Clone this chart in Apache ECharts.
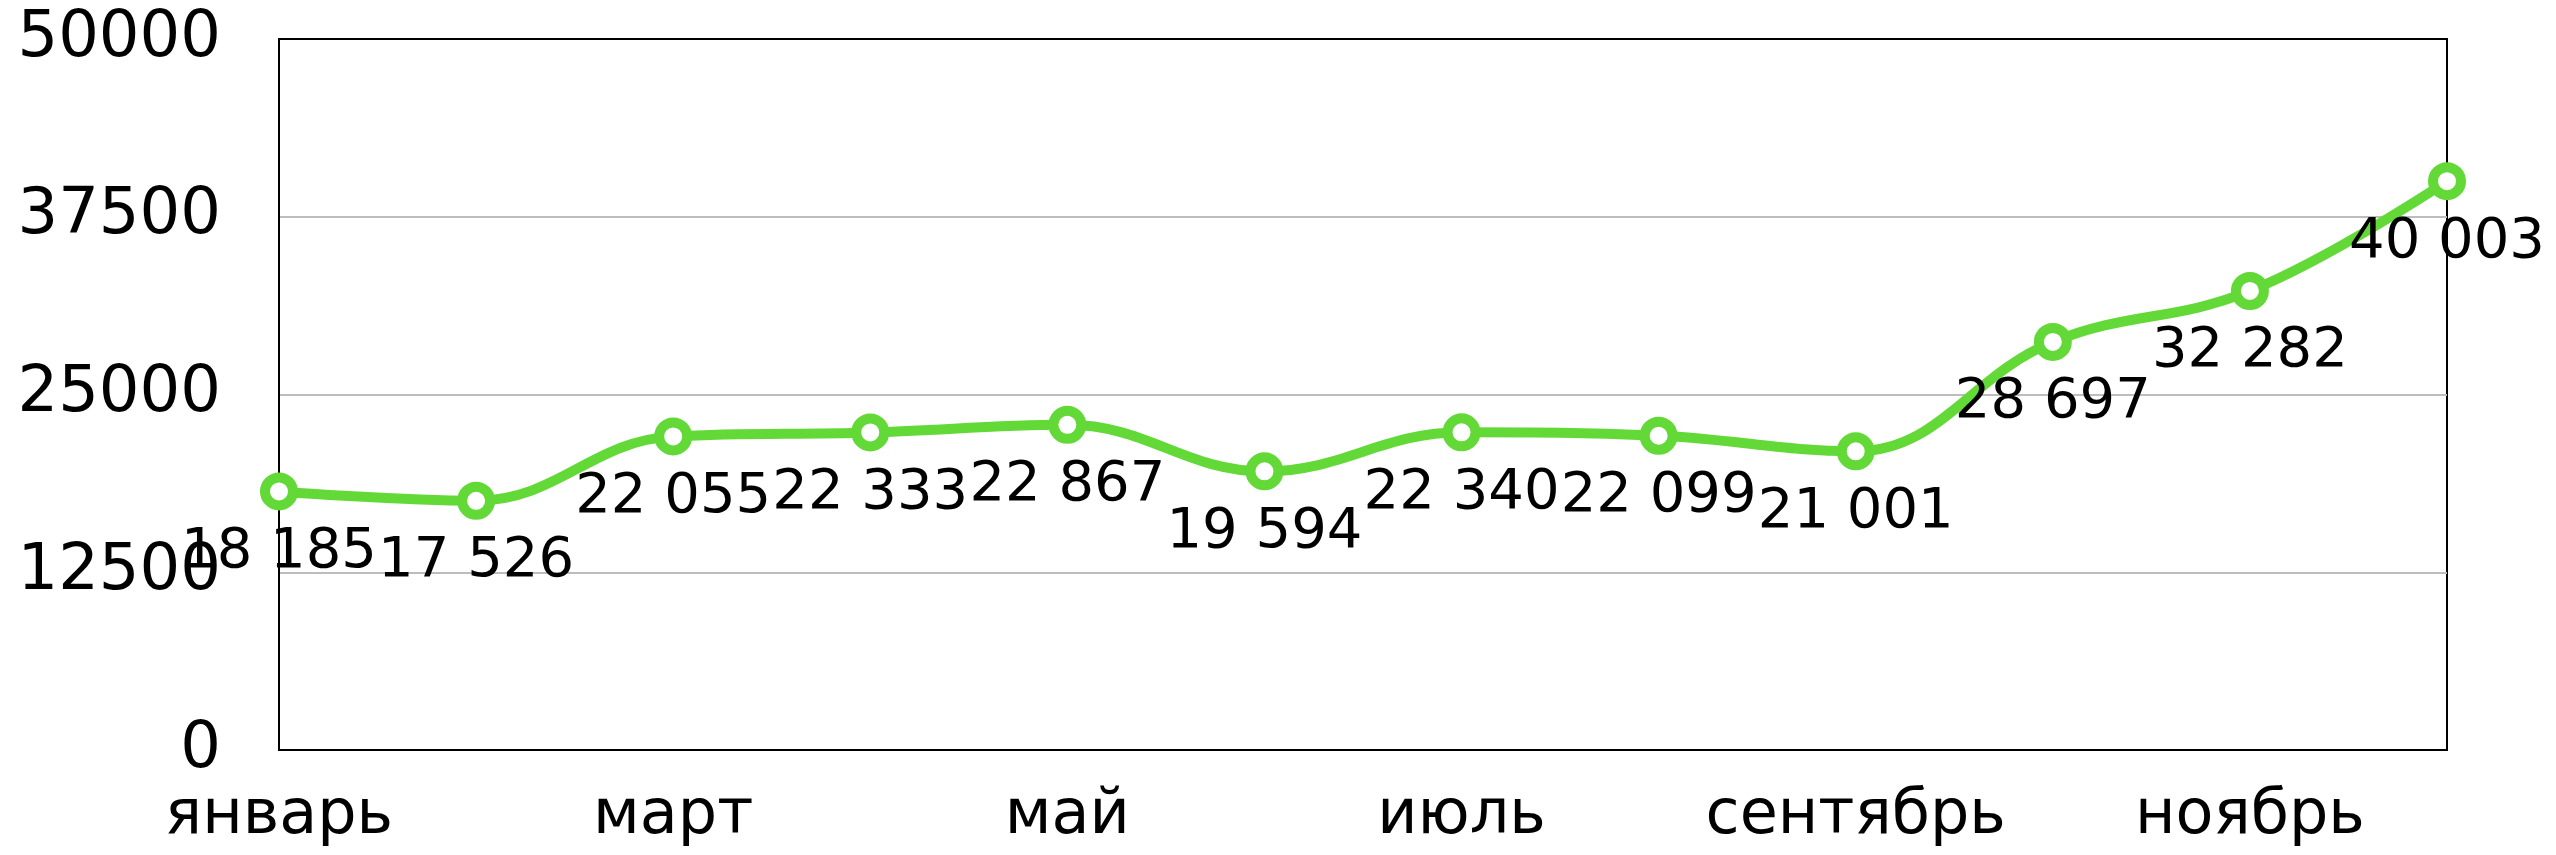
<!DOCTYPE html>
<html>
<head>
<meta charset="utf-8">
<script src="https://cdn.jsdelivr.net/npm/echarts@6/dist/echarts.min.js"></script>
<style>
  html, body { margin: 0; padding: 0; background: #fff; }
  #chart { width: 2556px; height: 855px; }
</style>
</head>
<body>
<div id="chart"></div>
<script>
const months = ['январь', 'февраль', 'март', 'апрель', 'май', 'июнь', 'июль', 'август', 'сентябрь', 'октябрь', 'ноябрь', 'декабрь'];
const sales = [18185, 17526, 22055, 22333, 22867, 19594, 22340, 22099, 21001, 28697, 32282, 40003];
const yTicks = [0, 12500, 25000, 37500, 50000];

const green = '#62d936';
const font = 'DejaVu Sans';

// 18185 -> "18 185"
const fmt = v => String(v).replace(/\B(?=(\d{3})+(?!\d))/g, ' ');

let chartDom = document.getElementById('chart');
const myChart = echarts.init(chartDom);

option = {
  animation: false,
  grid: {
    left: 279,
    right: 109,
    top: 39,
    bottom: 105,
    show: true,
    borderColor: '#000',
    borderWidth: 2
  },
  xAxis: {
    type: 'category',
    data: months,
    boundaryGap: false,
    axisLine: { lineStyle: { color: '#000', width: 2 } },
    axisTick: { show: false },
    axisLabel: {
      interval: 1,
      color: '#000',
      fontFamily: font,
      fontSize: 62,
      margin: 36
    }
  },
  yAxis: {
    type: 'value',
    min: yTicks[0],
    max: yTicks[yTicks.length - 1],
    interval: yTicks[1] - yTicks[0],
    axisLine: { show: true, lineStyle: { color: '#000', width: 2 } },
    axisTick: { show: false },
    axisLabel: {
      color: '#000',
      fontFamily: font,
      fontSize: 64,
      margin: 58,
      formatter: v => String(v)
    },
    splitLine: {
      lineStyle: { color: ['#000', '#bdbdbd', '#bdbdbd', '#bdbdbd', '#000'], width: 2 }
    }
  },
  series: [
    {
      type: 'line',
      data: sales,
      smooth: 0.4,
      symbol: 'circle',
      symbolSize: 28,
      lineStyle: { color: green, width: 10 },
      itemStyle: { color: '#fff', borderColor: green, borderWidth: 10 },
      label: {
        show: true,
        position: 'bottom',
        distance: 14,
        color: '#000',
        fontFamily: font,
        fontSize: 56,
        formatter: p => fmt(p.value)
      },
      z: 5
    }
  ]
};

myChart.setOption(option);
</script>
</body>
</html>
